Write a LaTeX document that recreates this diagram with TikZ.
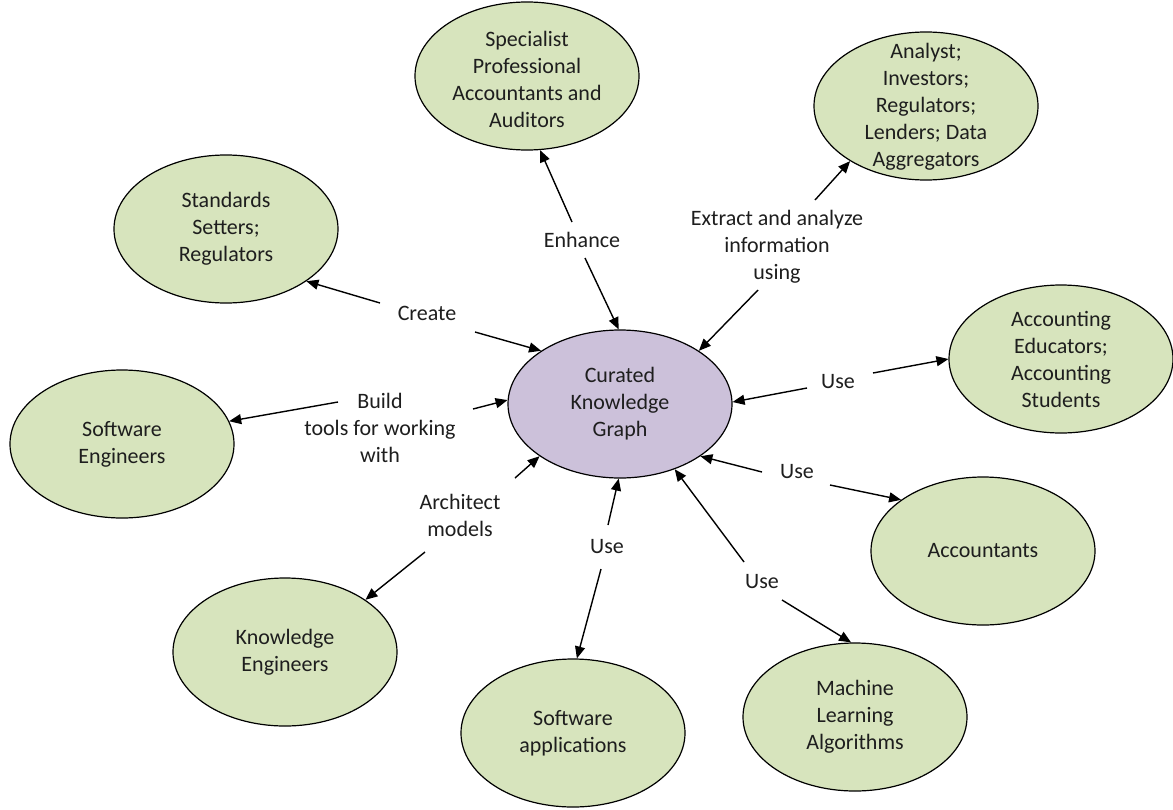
\documentclass[tikz,border=0pt]{standalone}
\usepackage{fontspec}
\setmainfont{Carlito}
\usetikzlibrary{shapes.geometric,arrows.meta}
\definecolor{leaf}{HTML}{D7E4BD}
\definecolor{lilac}{HTML}{CCC1DA}
\definecolor{ink}{HTML}{1E1E1E}

\begin{document}
\begin{tikzpicture}[x=1pt,y=-1pt,
  bubble/.style={ellipse, draw=black, line width=1.2pt, fill=leaf,
    minimum width=224pt, minimum height=148pt, inner sep=0pt},
  hub/.style={bubble, fill=lilac},
  txt/.style={align=center, font=\fontsize{22}{27}\selectfont, text=ink, inner sep=0pt},
  arr/.style={-{Triangle[length=12pt,width=10pt]}, line width=1.4pt, draw=black},
]
\fill[white] (0,0) rectangle (1173,809);
\useasboundingbox (0,0) rectangle (1173,809);

% central graph and the groups around it
\node[hub]    (kg)   at (620,404) {};
\node[bubble] (spec) at (527,76)  {};
\node[bubble] (anal) at (926,106) {};
\node[bubble] (stds) at (226,229) {};
\node[bubble] (swe)  at (122,444) {};
\node[bubble] (edu)  at (1061,359) {};
\node[bubble] (acct) at (983,551) {};
\node[bubble] (ke)   at (285,652) {};
\node[bubble] (apps) at (573,733) {};
\node[bubble] (ml)   at (855,717) {};

\node[txt] (kg-t)   at (kg)   {Curated\\Knowledge\\Graph};
\node[txt] (spec-t) at (527,79) {Specialist\\Professional\\Accountants and\\Auditors};
\node[txt] (anal-t) at (926,107) {Analyst;\\Investors;\\Regulators;\\Lenders; Data\\Aggregators};
\node[txt] (stds-t) at (stds) {Standards\\Setters;\\Regulators};
\node[txt] (swe-t)  at (swe)  {Software\\Engineers};
\node[txt] (edu-t)  at (edu)  {Accounting\\Educators;\\Accounting\\Students};
\node[txt] (acct-t) at (acct) {Accountants};
\node[txt] (ke-t)   at (ke)   {Knowledge\\Engineers};
\node[txt] (apps-t) at (apps) {Software\\applications};
\node[txt] (ml-t)   at (ml)   {Machine\\Learning\\Algorithms};

% relation labels
\node[txt] (lEnh) at (582,240) {Enhance};
\node[txt] (lExt) at (777,247) {Extract and analyze\\information\\using};
\node[txt] (lCre) at (427,313) {Create};
\node[txt] (lBld) at (380,428) {Build\\tools for working\\with};
\node[txt] (lArc) at (460,515) {Architect\\models};
\node[txt] (lUseA) at (607,547) {Use};
\node[txt] (lUseM) at (762,582) {Use};
\node[txt] (lUseE) at (838,382) {Use};
\node[txt] (lUseC) at (797,472) {Use};

% arrows leaving each label in both directions
\draw[arr] ([shift={(-10,-18)}]lEnh.center) -- (spec.-80);
\draw[arr] ([shift={(3,18)}]lEnh.center)    -- (kg.91);

\draw[arr] ([shift={(38,-47)}]lExt.center)  -- (anal.-144);
\draw[arr] ([shift={(-19,43)}]lExt.center)  -- (kg.34);

\draw[arr] ([shift={(-47,-10)}]lCre.center) -- (stds.-33);
\draw[arr] ([shift={(48,19)}]lCre.center)   -- (kg.146);

\draw[arr] ([shift={(-42,-26)}]lBld.center) -- (swe.12);
\draw[arr] ([shift={(93,-19)}]lBld.center)  -- (kg.178);

\draw[arr] ([shift={(55,-37)}]lArc.center)  -- (kg.-147);
\draw[arr] ([shift={(-35,37)}]lArc.center)  -- (ke.33);

\draw[arr] ([shift={(1,-22)}]lUseA.center)  -- (kg.-91);
\draw[arr] ([shift={(-6,22)}]lUseA.center)  -- (apps.87);

\draw[arr] ([shift={(-18,-20)}]lUseM.center) -- (kg.-50);
\draw[arr] ([shift={(20,18)}]lUseM.center)   -- (ml.93);

\draw[arr] ([shift={(-31,6)}]lUseE.center)  -- (kg.1);
\draw[arr] ([shift={(35,-9)}]lUseE.center)  -- (edu.180);

\draw[arr] ([shift={(-35,0)}]lUseC.center)  -- (kg.-33);
\draw[arr] ([shift={(33,13)}]lUseC.center)  -- (acct.148);
\end{tikzpicture}
\end{document}
